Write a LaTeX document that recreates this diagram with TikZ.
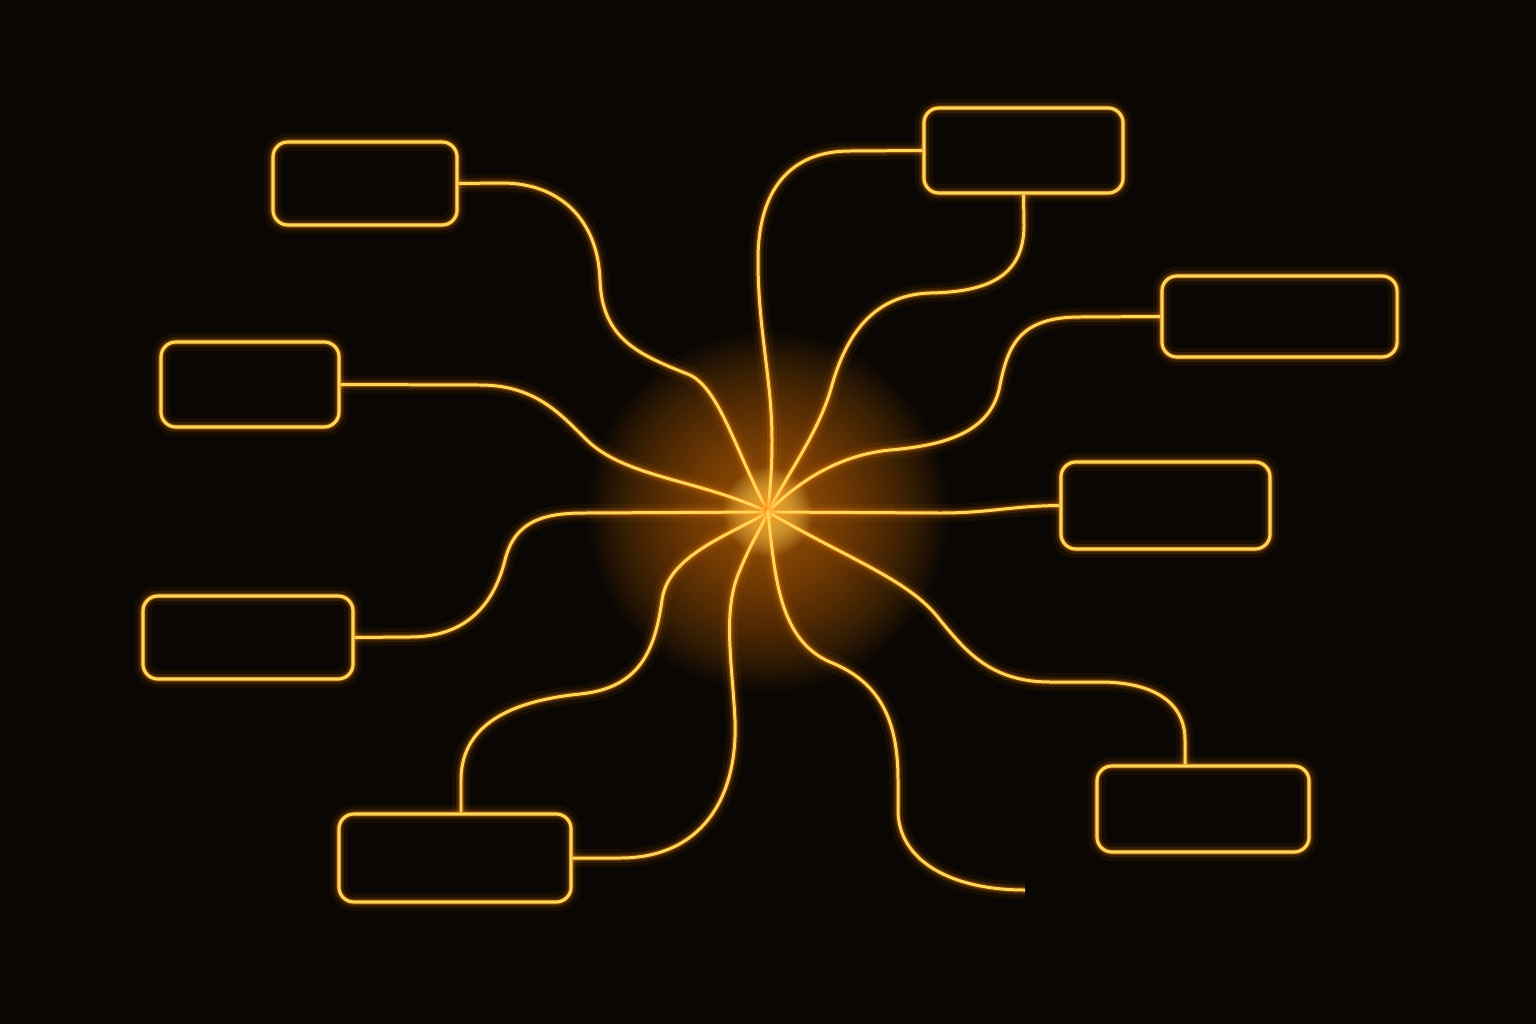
\documentclass[tikz,border=0pt]{standalone}
\usepackage{xcolor}
\usepackage{tikz}
\usetikzlibrary{positioning,calc}

\definecolor{bgdark}{RGB}{9,6,3}
\definecolor{wirecore}{RGB}{255,214,90}
\definecolor{wireglow}{RGB}{255,138,10}
\definecolor{hubcore}{RGB}{255,250,200}

\begin{document}
\begin{tikzpicture}[
    x=0.01cm, y=-0.01cm,
    glow/.style={preaction={draw=wireglow, line width=0.18cm, opacity=0.06},
                 preaction={draw=wireglow, line width=0.10cm, opacity=0.14},
                 preaction={draw=wireglow, line width=0.055cm, opacity=0.3}},
    box/.style={rectangle, draw=wirecore, line width=0.9pt, rounded corners=0.15cm, glow},
    wire/.style={draw=wirecore, line width=0.85pt, glow},
]
    % Background
    \useasboundingbox (0,0) rectangle (1536,1024);
    \fill[bgdark] (0,0) rectangle (1536,1024);

    % Hub glow
    \coordinate (hub) at (768,512);
    \foreach \r in {1.8,1.75,...,0.05}
        \fill[wireglow, opacity=0.028] (hub) circle (\r cm);
    \foreach \r in {0.44,0.42,...,0.02}
        \fill[wirecore, opacity=0.07] (hub) circle (\r cm);
    \fill[hubcore] (hub) circle (0.07cm);

    % Nodes
    \node[box, minimum width=1.84cm, minimum height=0.83cm] (topleft) at (365,183.5) {};
    \node[box, minimum width=1.78cm, minimum height=0.85cm] (midleft) at (250,384.5) {};
    \node[box, minimum width=2.10cm, minimum height=0.83cm] (lowleft) at (248,637.5) {};
    \node[box, minimum width=2.32cm, minimum height=0.88cm] (bottom) at (455,858) {};
    \node[box, minimum width=1.99cm, minimum height=0.85cm] (top) at (1023.5,150.5) {};
    \node[box, minimum width=2.35cm, minimum height=0.81cm] (upright) at (1279.5,316.5) {};
    \node[box, minimum width=2.09cm, minimum height=0.87cm] (midright) at (1165.5,505.5) {};
    \node[box, minimum width=2.12cm, minimum height=0.86cm] (lowright) at (1203,809) {};
    \coordinate (tail) at (1025,890);

    % Connectors
    \draw[wire] (topleft.east) -- (502,183) .. controls (560,183) and (598,220) .. (600,280)
        .. controls (602,340) and (640,355) .. (690,375) .. controls (720,390) and (735,450) .. (hub);
    \draw[wire] (midleft.east) -- (480,385) .. controls (540,385) and (565,420) .. (590,443)
        .. controls (630,478) and (700,480) .. (hub);
    \draw[wire] (lowleft.east) -- (410,637) .. controls (470,637) and (495,600) .. (505,560)
        .. controls (515,520) and (545,513) .. (585,513) -- (hub);
    \draw[wire] ($(bottom.north)+(6,0)$) -- (461,780) .. controls (461,720) and (520,700) .. (580,694)
        .. controls (640,688) and (655,650) .. (662,600) .. controls (668,555) and (730,535) .. (hub);
    \draw[wire] (bottom.east) -- (620,858) .. controls (700,858) and (738,800) .. (735,720)
        .. controls (732,660) and (722,610) .. (740,570) .. controls (750,545) and (760,530) .. (hub);
    \draw[wire] (top.west) -- (850,151) .. controls (790,151) and (758,190) .. (758,260)
        .. controls (758,330) and (772,380) .. (772,440) .. controls (772,470) and (770,490) .. (hub);
    \draw[wire] (top.south) -- (1024,225) .. controls (1024,275) and (990,292) .. (930,293)
        .. controls (870,295) and (845,340) .. (832,385) .. controls (820,430) and (790,470) .. (hub);
    \draw[wire] (upright.west) -- (1080,317) .. controls (1020,317) and (1008,345) .. (1000,385)
        .. controls (992,430) and (950,445) .. (890,450) .. controls (840,455) and (800,480) .. (hub);
    \draw[wire] (hub) -- (940,513) .. controls (990,513) and (1010,506) .. (midright.west);
    \draw[wire] ($(lowright.north)+(-18,0)$) -- (1185,740) .. controls (1185,700) and (1150,682) .. (1100,682)
        -- (1050,682) .. controls (990,682) and (965,650) .. (940,620) .. controls (910,580) and (850,560) .. (hub);
    \draw[wire] (hub) .. controls (775,580) and (780,640) .. (830,662) .. controls (880,682) and (898,720) .. (898,780)
        -- (898,810) .. controls (898,860) and (950,890) .. (tail);
\end{tikzpicture}
\end{document}
